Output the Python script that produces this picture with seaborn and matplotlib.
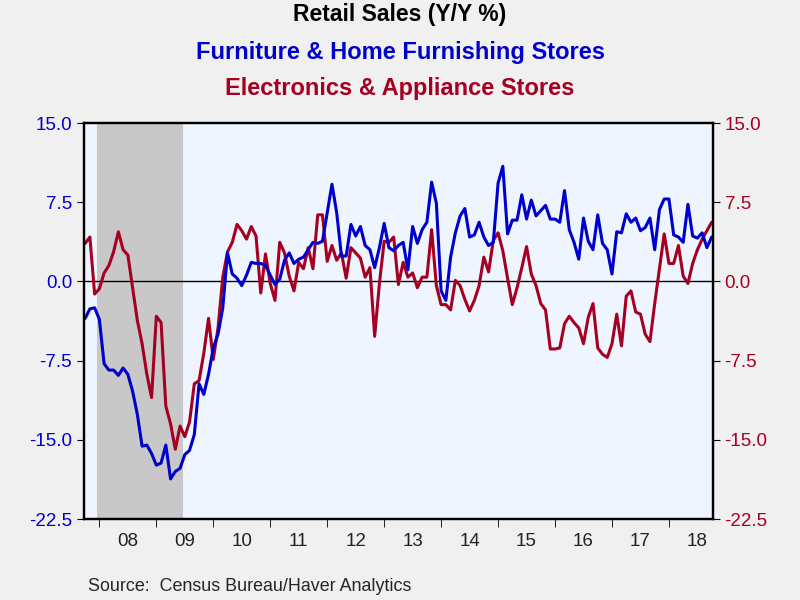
import numpy as np
import pandas as pd
import matplotlib
matplotlib.use("Agg")
import matplotlib.pyplot as plt
import seaborn as sns

furniture = [-3.5,-2.6,-2.5,-3.6,-7.8,-8.4,-8.4,-8.9,-8.2,-8.8,-10.4,-12.6,-15.6,-15.5,-16.3,-17.4,-17.2,-15.5,-18.7,-18.0,-17.7,-16.4,-16.0,-14.5,-9.7,-10.7,-8.8,-6.3,-5.0,-2.5,2.7,0.7,0.3,-0.4,0.6,1.8,1.7,1.7,1.5,0.6,-0.3,0.2,2.0,2.7,1.7,2.1,2.3,
    3.0,3.7,3.6,3.8,6.5,9.2,6.5,2.4,2.4,5.4,4.3,5.2,3.4,3.0,1.3,3.2,5.5,3.2,2.9,3.4,3.7,1.1,5.2,3.6,4.9,5.6,9.4,7.4,-0.9,-1.8,2.3,4.6,6.2,6.9,4.2,4.4,5.6,4.2,3.4,3.7,9.3,10.9,4.5,
    5.8,5.8,8.2,5.9,7.7,6.2,6.7,7.2,5.9,5.9,5.6,8.6,4.9,3.7,2.1,6.0,3.8,3.0,6.3,3.6,3.0,0.7,4.7,4.6,6.4,5.6,6.0,4.8,5.1,6.0,3.0,6.8,7.8,7.8,4.4,4.2,3.7,7.3,4.3,4.1,4.6,3.2,4.2]
electronics = [3.6,4.2,-1.2,-0.7,0.8,1.5,2.8,4.7,3.0,2.5,-0.6,-3.7,-5.9,-8.8,-11.0,-3.3,-3.9,-11.8,-13.5,-15.9,-13.7,-14.7,-13.3,-9.7,-9.4,-6.8,-3.5,-7.4,-4.4,0.4,2.8,3.7,5.4,4.8,4.0,5.2,4.3,-1.1,2.6,-0.2,-1.8,3.7,2.7,0.5,-0.9,1.8,1.2,
    3.2,1.2,6.3,6.3,1.9,3.4,2.0,2.7,0.3,3.2,2.7,2.2,0.4,1.3,-5.2,-0.2,3.8,3.7,4.2,-0.3,1.8,0.4,0.8,-0.6,0.4,0.4,4.9,-0.4,-2.2,-2.2,-2.7,0.1,-0.4,-1.7,-2.8,-1.8,-0.4,2.3,0.9,3.9,4.6,2.9,0.3,
    -2.2,-0.6,1.3,3.3,0.7,-0.4,-2.1,-2.7,-6.4,-6.4,-6.3,-4.0,-3.3,-3.9,-4.4,-5.9,-3.4,-2.1,-6.3,-6.9,-7.2,-5.9,-3.1,-6.1,-1.4,-0.9,-2.9,-3.1,-5.0,-5.7,-2.1,1.2,4.5,1.7,1.7,3.4,0.5,-0.2,1.7,3.0,4.0,4.8,5.6]
start_year = 2007.75
year_labels = ["08","09","10","11","12","13","14","15","16","17","18"]

n = len(furniture)
t = start_year + np.arange(n) / 12.0
df = pd.DataFrame({"t": t, "furn": furniture, "elec": electronics[:n]})

sns.set_style("white")
plt.rcParams['font.family'] = ['Liberation Sans', 'DejaVu Sans']
fig = plt.figure(figsize=(8, 6), dpi=100, facecolor="#F0F0F0")
ax = fig.add_axes([0.105, 0.135, 0.786, 0.66])
ax.set_facecolor("#EEF5FF")
ax.axvspan(2007.96, 2009.46, color="#C8C8C8", zorder=0, lw=0)
ax.axhline(0, color="black", lw=1, zorder=1)
sns.lineplot(data=df, x="t", y="elec", ax=ax, color="#A50021", lw=2.2, zorder=2)
sns.lineplot(data=df, x="t", y="furn", ax=ax, color="#0000CC", lw=2.2, zorder=3)
ax.set_ylim(-22.5, 15)
ax.set_xlim(start_year - 0.02, start_year + (n - 1) / 12 + 0.02)
ax.set_xlabel(""); ax.set_ylabel("")
ticks = [15, 7.5, 0, -7.5, -15, -22.5]
labels = ["15.0", "7.5", "0.0", "-7.5", "-15.0", "-22.5"]
ax.set_yticks(ticks)
ax.set_yticklabels(labels, color="#0000CC", fontsize=13.5)
ax.tick_params(axis="y", direction="out", length=5, left=True, color="black")
years = np.arange(2008, 2019)
ax.set_xticks(years, minor=True)
ax.set_xticks(years + 0.5)
ax.set_xticklabels(year_labels, fontsize=13.5, color="#222222")
ax.tick_params(axis="x", which="major", length=0, pad=10)
ax.tick_params(axis="x", which="minor", direction="out", length=6, bottom=True, color="black")
for s in ax.spines.values():
    s.set_color("black"); s.set_linewidth(1.6)

ax2 = ax.twinx()
ax2.set_ylim(-22.5, 15)
ax2.set_yticks(ticks)
ax2.set_yticklabels(labels, color="#A50021", fontsize=13.5)
ax2.tick_params(axis="y", direction="out", length=5, right=True, color="black")
ax2.patch.set_visible(False)
for s in ax2.spines.values():
    s.set_color("black"); s.set_linewidth(1.6)

fig.text(0.5, 0.975, "Retail Sales (Y/Y %)", ha="center", va="center", fontsize=16.5, fontweight="bold", color="black")
fig.text(0.5, 0.912, "Furniture & Home Furnishing Stores", ha="center", va="center", fontsize=17, fontweight="bold", color="#0000CC")
fig.text(0.5, 0.853, "Electronics & Appliance Stores", ha="center", va="center", fontsize=17, fontweight="bold", color="#A50021")
fig.text(0.11, 0.022, "Source:  Census Bureau/Haver Analytics", ha="left", va="center", fontsize=12.9)
fig.savefig("out.png", dpi=100, facecolor=fig.get_facecolor())
